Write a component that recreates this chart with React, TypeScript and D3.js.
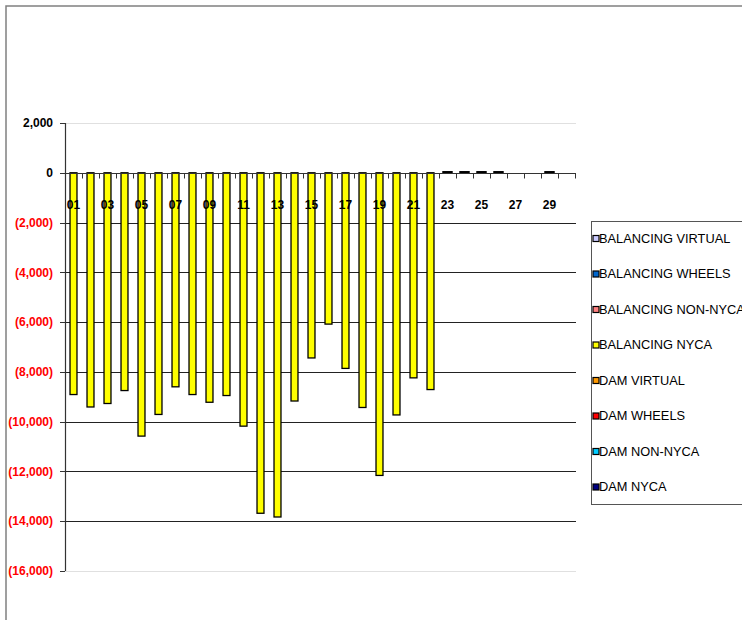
import { useEffect, useRef } from "react";
import * as d3 from "d3";

const days = d3.range(1, 31).map((d) => String(d).padStart(2, "0"));

// BALANCING NYCA (MW), days 01-30
const balancingNyca = [
  -8910, -9410, -9270, -8750, -10580, -9710, -8600, -8910, -9220, -8950,
  -10180, -13680, -13830, -9170, -7440, -6080, -7860, -9430, -12160, -9730,
  -8240, -8710, 0, 0, 0, 0, 0, 0, 0, 0,
];

// DAM NYCA small values at the end of the month
const damNyca = [
  0, 0, 0, 0, 0, 0, 0, 0, 0, 0, 0, 0, 0, 0, 0, 0, 0, 0, 0, 0, 0, 0, 40, 40,
  40, 40, 0, 0, 40, 0,
];

const yTicks = [2000, 0, -2000, -4000, -6000, -8000, -10000, -12000, -14000, -16000];

const legendNames = [
  "BALANCING VIRTUAL",
  "BALANCING WHEELS",
  "BALANCING NON-NYCA",
  "BALANCING NYCA",
  "DAM VIRTUAL",
  "DAM WHEELS",
  "DAM NON-NYCA",
  "DAM NYCA",
];
const legendColors = [
  "#ccccff",
  "#0066cc",
  "#ff8080",
  "#ffff00",
  "#ff9900",
  "#ff0000",
  "#00ccff",
  "#000080",
];

function App() {
  const svgRef = useRef(null);

  useEffect(() => {
    const width = 742;
    const height = 620;
    const left = 65;
    const right = 575;
    const top = 123;
    const bottom = 571;
    const font = "Arial, 'Liberation Sans', sans-serif";

    const svg = d3.select(svgRef.current).attr("width", width).attr("height", height);
    svg.selectAll("*").remove();

    // outer chart border
    svg
      .append("path")
      .attr("d", `M6,${height} L6,6 L${width},6`)
      .attr("fill", "none")
      .attr("stroke", "#808080")
      .attr("stroke-width", 1.5);

    const x = d3.scaleBand().domain(days).range([left, right]).paddingInner(0.59).paddingOuter(0.295);
    const step = x.step();
    const y = d3.scaleLinear().domain([-16000, 2000]).range([bottom, top]);

    // gridlines
    svg
      .selectAll(".grid")
      .data(yTicks.filter((t) => t !== 0))
      .enter()
      .append("line")
      .attr("x1", left)
      .attr("x2", right + 1)
      .attr("y1", (d) => Math.round(y(d)) + 0.5)
      .attr("y2", (d) => Math.round(y(d)) + 0.5)
      .attr("stroke", (d) => (d === 2000 || d === -16000 ? "#e0e0e0" : "#222"))
      .attr("stroke-width", 1);

    // yellow bars
    svg
      .selectAll(".bar")
      .data(balancingNyca.map((v, i) => ({ day: days[i], v })).filter((d) => d.v !== 0))
      .enter()
      .append("rect")
      .attr("x", (d) => x(d.day))
      .attr("y", y(0))
      .attr("width", x.bandwidth())
      .attr("height", (d) => y(d.v) - y(0))
      .attr("fill", "#ffff00")
      .attr("stroke", "#000")
      .attr("stroke-width", 1.3);

    // dam nyca small bars
    svg
      .selectAll(".dam")
      .data(damNyca.map((v, i) => ({ day: days[i], v })).filter((d) => d.v !== 0))
      .enter()
      .append("rect")
      .attr("x", (d) => x(d.day)! - 1)
      .attr("y", (d) => y(d.v))
      .attr("width", x.bandwidth() + 2)
      .attr("height", (d) => y(0) - y(d.v))
      .attr("fill", "#000080")
      .attr("stroke", "#000")
      .attr("stroke-width", 1.5);

    // y axis
    svg
      .append("line")
      .attr("x1", left + 0.5)
      .attr("x2", left + 0.5)
      .attr("y1", top)
      .attr("y2", bottom)
      .attr("stroke", "#333")
      .attr("stroke-width", 1.2);

    svg
      .selectAll(".ytick")
      .data(yTicks)
      .enter()
      .append("line")
      .attr("x1", left - 5)
      .attr("x2", left)
      .attr("y1", (d) => Math.round(y(d)) + 0.5)
      .attr("y2", (d) => Math.round(y(d)) + 0.5)
      .attr("stroke", "#333");

    const fmt = d3.format(",");
    svg
      .selectAll(".ylab")
      .data(yTicks)
      .enter()
      .append("text")
      .attr("x", 53)
      .attr("y", (d) => y(d))
      .attr("dy", "0.35em")
      .attr("text-anchor", "end")
      .attr("font-family", font)
      .attr("font-size", "12px")
      .attr("font-weight", "bold")
      .attr("fill", (d) => (d < 0 ? "#ff0000" : "#000"))
      .text((d) => (d < 0 ? `(${fmt(-d)})` : fmt(d)));

    // x axis line at zero
    const y0 = Math.round(y(0)) + 0.5;
    svg
      .append("line")
      .attr("x1", left)
      .attr("x2", right + 1)
      .attr("y1", y0)
      .attr("y2", y0)
      .attr("stroke", "#333")
      .attr("stroke-width", 1.2);

    svg
      .selectAll(".xtick")
      .data(d3.range(days.length + 1))
      .enter()
      .append("line")
      .attr("x1", (i) => Math.round(left + i * step) + 0.5)
      .attr("x2", (i) => Math.round(left + i * step) + 0.5)
      .attr("y1", y0)
      .attr("y2", y0 + 5)
      .attr("stroke", "#333");

    svg
      .selectAll(".xlab")
      .data(days.filter((_, i) => i % 2 === 0))
      .enter()
      .append("text")
      .attr("x", (d) => x(d)! + x.bandwidth() / 2)
      .attr("y", 205)
      .attr("dy", "0.35em")
      .attr("text-anchor", "middle")
      .attr("font-family", font)
      .attr("font-size", "12px")
      .attr("font-weight", "bold")
      .attr("fill", "#000")
      .text((d) => d);

    // legend
    const legend = svg.append("g");
    legend
      .append("rect")
      .attr("x", 591.5)
      .attr("y", 221.5)
      .attr("width", 170)
      .attr("height", 283)
      .attr("fill", "#fff")
      .attr("stroke", "#555")
      .attr("stroke-width", 1);

    legendNames.forEach((name, i) => {
      const cy = 238.5 + i * 35.5;
      legend
        .append("rect")
        .attr("x", 593)
        .attr("y", cy - 3)
        .attr("width", 6)
        .attr("height", 6)
        .attr("fill", legendColors[i])
        .attr("stroke", "#000")
        .attr("stroke-width", 1.2);
      legend
        .append("text")
        .attr("x", 599)
        .attr("y", cy)
        .attr("dy", "0.35em")
        .attr("font-family", font)
        .attr("font-size", "12.8px")
        .attr("fill", "#000")
        .text(name);
    });
  }, []);

  return (
    <div style={{ position: "absolute", left: 0, top: 0 }}>
      <svg ref={svgRef}></svg>
    </div>
  );
}

export default App;
